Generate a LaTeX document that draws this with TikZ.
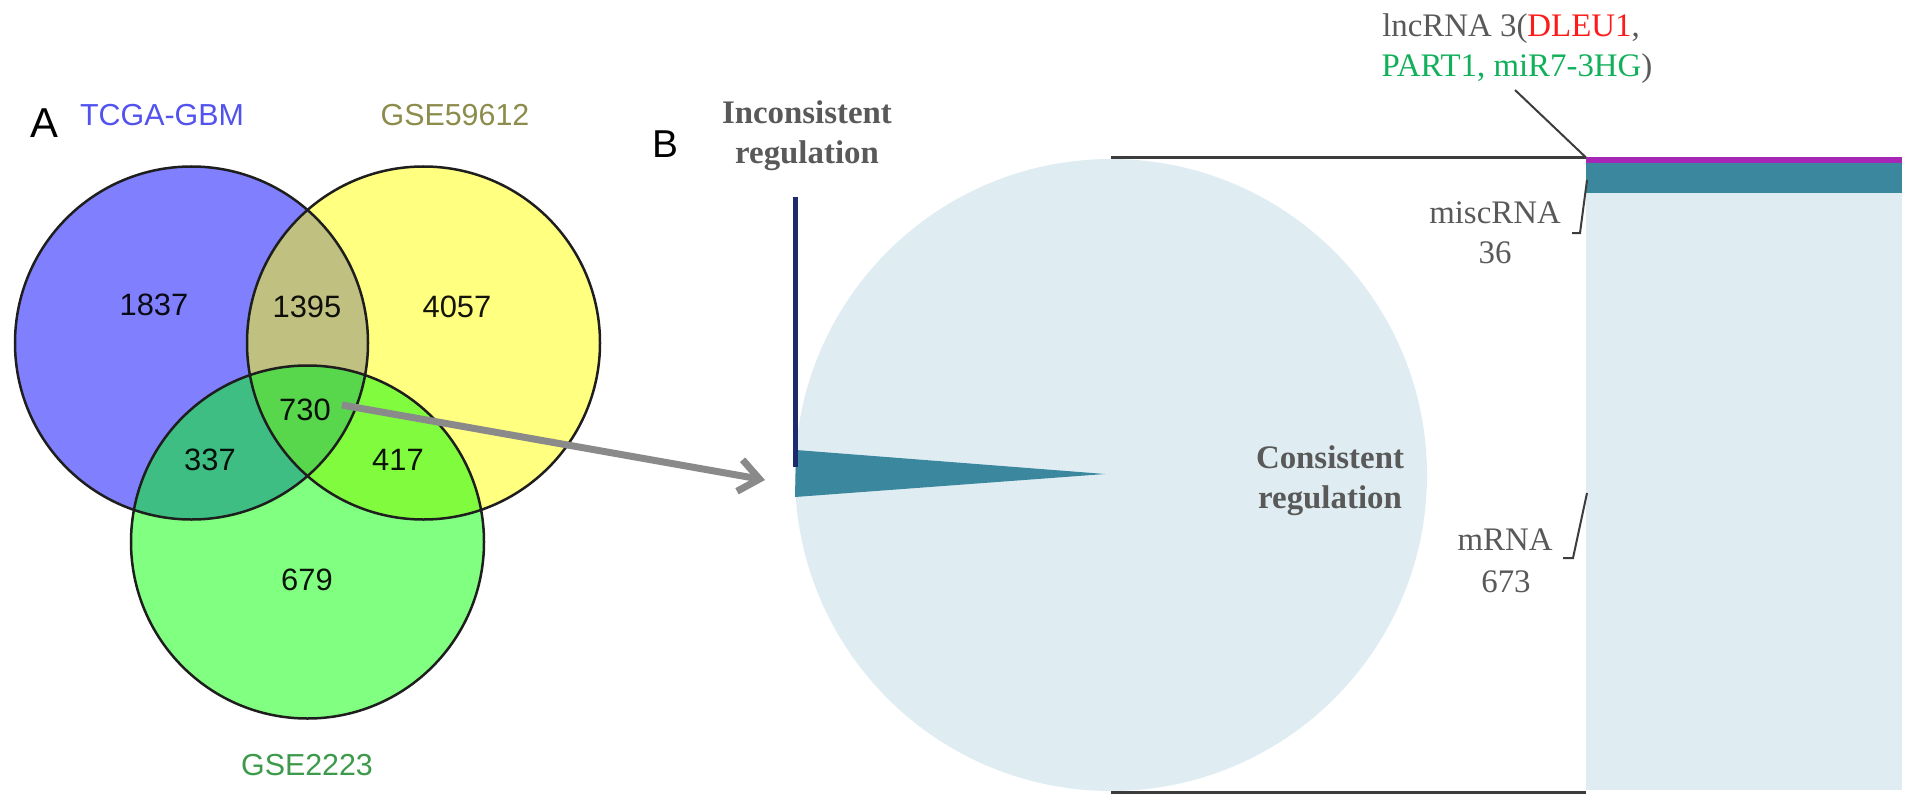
\documentclass[tikz,border=0pt]{standalone}
\usepackage{fontspec}
\setmainfont{Liberation Serif}
\newfontfamily\sansf{Liberation Sans}
\usetikzlibrary{arrows.meta}
\definecolor{vblue}{HTML}{8080FF}
\definecolor{vyellow}{HTML}{FFFF80}
\definecolor{vgreen}{HTML}{80FF80}
\definecolor{vby}{HTML}{C0C080}
\definecolor{vbg}{HTML}{3EBE82}
\definecolor{vyg}{HTML}{80FB3E}
\definecolor{vbyg}{HTML}{58D64C}
\definecolor{vline}{HTML}{1E1E1E}
\definecolor{lblue}{HTML}{5252EE}
\definecolor{lolive}{HTML}{8C8C4C}
\definecolor{lgreen}{HTML}{3C9A4A}
\definecolor{arrgray}{HTML}{8A8A8A}
\definecolor{pielight}{HTML}{DFEDF3}
\definecolor{pieteal}{HTML}{3A879E}
\definecolor{navyc}{HTML}{1C2A6E}
\definecolor{magc}{HTML}{A626B6}
\definecolor{tgray}{HTML}{595959}
\definecolor{tred}{HTML}{FF1A1A}
\definecolor{tgreen}{HTML}{12B05A}
\definecolor{lcol}{HTML}{3C3C3C}
\begin{document}
\begin{tikzpicture}[x=1bp,y=-1bp,
  setcirc/.style={circle, draw=vline, line width=2.5bp, minimum size=353bp, inner sep=0pt},
  vnum/.style={font=\sansf\fontsize{31}{36}\selectfont, text=black, text opacity=.92, inner sep=0pt},
  vlab/.style={font=\sansf\fontsize{30.5}{36}\selectfont, anchor=base, inner sep=0pt},
  panel/.style={font=\sansf\fontsize{42}{48}\selectfont, anchor=base, inner sep=0pt},
  serifr/.style={font=\fontsize{33}{40}\selectfont, text=tgray, anchor=base, inner sep=0pt},
  serifb/.style={font=\bfseries\fontsize{33}{40}\selectfont, text=tgray, anchor=base, inner sep=0pt},
  leader/.style={draw=lcol, line width=2bp},
  edge/.style={draw=lcol, line width=3bp},
  garrow/.style={draw=arrgray, line width=7bp, -{Straight Barb[length=20bp,width=32bp]}}
]
\useasboundingbox (0,0) rectangle (1916,806);

% ---------- Panel A: Venn ----------
\coordinate (cB) at (191.5,343);
\coordinate (cY) at (423.5,343);
\coordinate (cG) at (307.5,542);
\def\vr{176.5bp}
\fill[vblue] (cB) circle[radius=\vr];
\fill[vyellow] (cY) circle[radius=\vr];
\fill[vgreen] (cG) circle[radius=\vr];
\begin{scope}
  \clip (cB) circle[radius=\vr];
  \fill[vby] (cY) circle[radius=\vr];
  \fill[vbg] (cG) circle[radius=\vr];
  \begin{scope}
    \clip (cY) circle[radius=\vr];
    \fill[vbyg] (cG) circle[radius=\vr];
  \end{scope}
\end{scope}
\begin{scope}
  \clip (cY) circle[radius=\vr];
  \begin{scope}
    \clip (cG) circle[radius=\vr];
    \fill[vyg] (cG) circle[radius=\vr];
    \clip (cB) circle[radius=\vr];
    \fill[vbyg] (cG) circle[radius=\vr];
  \end{scope}
\end{scope}
\node[setcirc] (setB) at (cB) {};
\node[setcirc] (setY) at (cY) {};
\node[setcirc] (setG) at (cG) {};

\node[vnum] (n1837) at (154,305) {1837};
\node[vnum] (n1395) at (307,307) {1395};
\node[vnum] (n4057) at (457,307) {4057};
\node[vnum] (n730)  at (305,410) {730};
\node[vnum] (n337)  at (210,460) {337};
\node[vnum] (n417)  at (398,460) {417};
\node[vnum] (n679)  at (307,580) {679};

\node[panel] (lA) at (44,137) {A};
\node[vlab, text=lblue]  (lTCGA) at (162,125) {TCGA-GBM};
\node[vlab, text=lolive] (lGSE1) at (455,125) {GSE59612};
\node[vlab, text=lgreen] (lGSE2) at (307,775) {GSE2223};

% ---------- Panel B: pie of pie ----------
\node[panel, font=\sansf\fontsize{39}{44}\selectfont] (lB) at (665,157) {B};

\coordinate (pc) at (1111,475);
\fill[pielight] (pc) circle[radius=316bp];
\fill[pieteal] (1105,474) -- (796,450) -- (795,497) -- cycle;
\coordinate (navtop) at (795.5,197);
\coordinate (navbot) at (795.5,467);
\draw[navyc, line width=4.5bp] (navtop) -- (navbot);

% bar
\fill[pielight] (1586,193) rectangle (1902,790);
\fill[pieteal] (1586,163) rectangle (1902,193);
\fill[magc] (1586,157) rectangle (1902,163);
\coordinate (bartl) at (1586,157.5);
\coordinate (barbl) at (1586,792);
\coordinate (pietop) at (1111,157.5);
\coordinate (piebot) at (1111,792);
\draw[edge] (pietop) -- (bartl);
\draw[edge] (piebot) -- (barbl);

% leaders
\coordinate (lncend) at (1515,90);
\draw[leader] (bartl) -- (lncend);
\coordinate (misca) at (1572,233);
\coordinate (miscb) at (1580,233);
\coordinate (miscc) at (1587,180);
\draw[leader] (misca) -- (miscb) -- (miscc);
\coordinate (mrnaa) at (1563,558);
\coordinate (mrnab) at (1573,558);
\coordinate (mrnac) at (1587,493);
\draw[leader] (mrnaa) -- (mrnab) -- (mrnac);

% texts
\node[serifb] (inc1) at (807,123) {Inconsistent};
\node[serifb] (inc2) at (807,163) {regulation};
\node[serifb] (con1) at (1330,468) {Consistent};
\node[serifb] (con2) at (1330,508) {regulation};
\node[serifr] (lnc1) at (1511,37) {lncRNA 3(\textcolor{tred}{DLEU1},};
\node[serifr] (lnc2) at (1517,77) {\textcolor{tgreen}{PART1, miR7-3HG})};
\node[serifr] (misc1) at (1495,223) {miscRNA};
\node[serifr] (misc2) at (1495,263) {36};
\node[serifr] (mrna1) at (1505,550) {mRNA};
\node[serifr] (mrna2) at (1506,592) {673};

% arrow from 730 to the pie
\coordinate (arrtip) at (765,480);
\draw[garrow] ([xshift=11bp,yshift=5bp]n730.east) -- (arrtip);
\end{tikzpicture}
\end{document}
